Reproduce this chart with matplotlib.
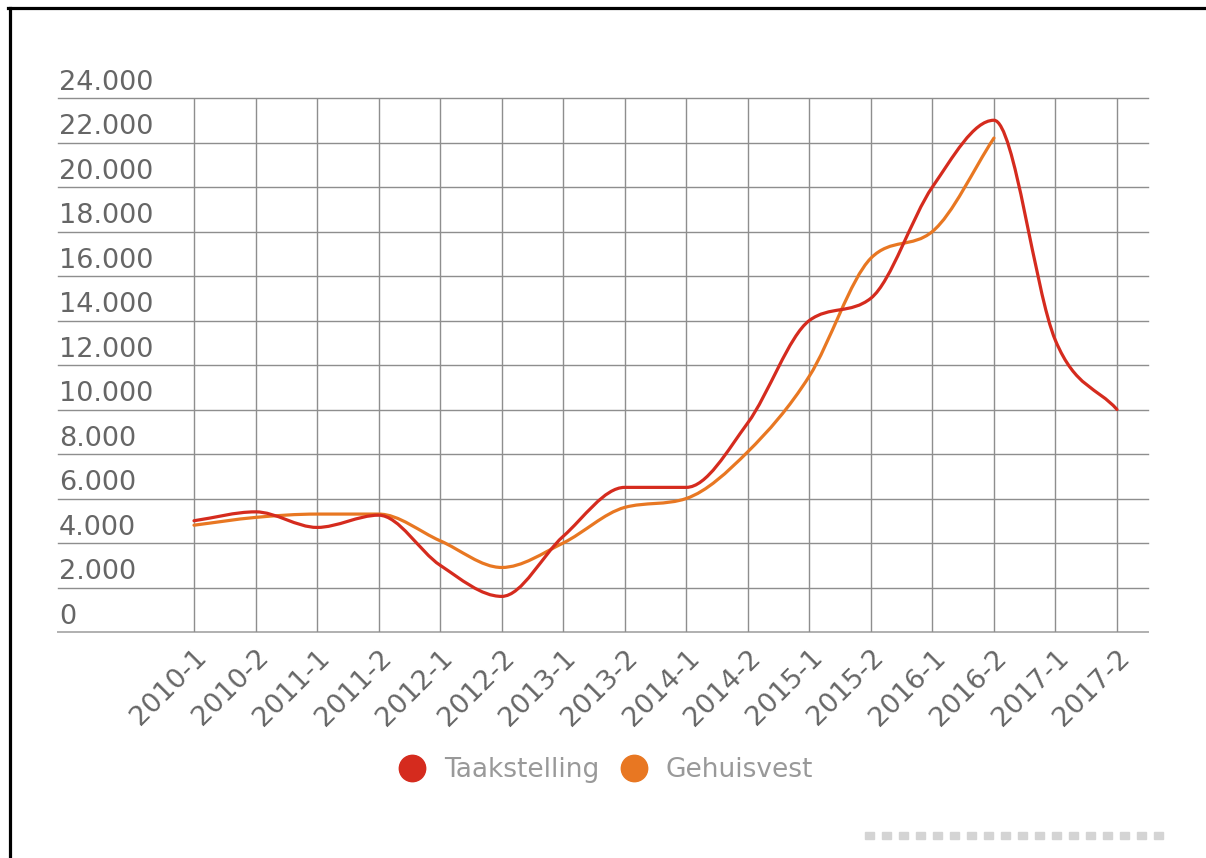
import numpy as np
import matplotlib
matplotlib.use("Agg")
import matplotlib.pyplot as plt
from matplotlib.path import Path
from matplotlib.patches import PathPatch, Rectangle
from matplotlib.lines import Line2D

periods = ["2010-1", "2010-2", "2011-1", "2011-2", "2012-1", "2012-2",
           "2013-1", "2013-2", "2014-1", "2014-2", "2015-1", "2015-2",
           "2016-1", "2016-2", "2017-1", "2017-2"]
taakstelling = [5000, 5400, 4700, 5250, 3000, 1600, 4300, 6500,
                6500, 9400, 14000, 15000, 20000, 23000, 13100, 10000]
gehuisvest = [4800, 5150, 5300, 5300, 4100, 2900, 4000, 5600,
              6000, 8100, 11500, 16800, 18000, 22200]
y_ticks = list(range(0, 24001, 2000))

RED = "#d52b1e"
ORANGE = "#e87722"
GRID = "#8e8e8e"
TICK_TXT = "#666666"
LEGEND_TXT = "#999999"

W, H = 1206, 858


def monotone_path(xs, ys):
    # Fritsch-Carlson tangents, drawn as cubic bezier segments
    xs = np.asarray(xs, float)
    ys = np.asarray(ys, float)
    n = len(xs)
    d = np.diff(ys) / np.diff(xs)
    m = np.zeros(n)
    m[0], m[-1] = d[0], d[-1]
    for i in range(1, n - 1):
        m[i] = 0 if d[i - 1] * d[i] <= 0 else (d[i - 1] + d[i]) / 2
    for i in range(n - 1):
        if d[i] == 0:
            m[i] = m[i + 1] = 0
            continue
        a, b = m[i] / d[i], m[i + 1] / d[i]
        s = a * a + b * b
        if s > 9:
            t = 3 / np.sqrt(s)
            m[i], m[i + 1] = t * a * d[i], t * b * d[i]
    verts = [(xs[0], ys[0])]
    codes = [Path.MOVETO]
    for i in range(n - 1):
        h = (xs[i + 1] - xs[i]) / 3
        verts += [(xs[i] + h, ys[i] + m[i] * h),
                  (xs[i + 1] - h, ys[i + 1] - m[i + 1] * h),
                  (xs[i + 1], ys[i + 1])]
        codes += [Path.CURVE4] * 3
    return Path(verts, codes)


plt.rcParams["font.family"] = ["DejaVu Sans"]
fig = plt.figure(figsize=(W / 100, H / 100), dpi=100)

step = (1117 - 194) / 15
x_left = (58 - 194) / step
x_right = (1148 - 194) / step
ax = fig.add_axes([58 / W, 1 - 632 / H, (1148 - 58) / W, (632 - 98) / H])
ax.set_xlim(x_left, x_right)
ax.set_ylim(0, 24000)
ax.axis("off")

idx = np.arange(len(periods))
for v in y_ticks:
    ax.axhline(v, color=GRID if v else "#b0b0b0", lw=1.0 if v else 1.4,
               zorder=1, clip_on=False)
    ax.annotate(f"{v:,}".replace(",", ".") if v else "0",
                xy=(0.001, v), xycoords=("axes fraction", "data"),
                xytext=(0, 5.8), textcoords="offset points",
                ha="left", va="baseline", fontsize=19.5, color=TICK_TXT)
ax.vlines(idx, 0, 24000, color=GRID, lw=1.0, zorder=1)

for i, lab in enumerate(periods):
    ax.annotate(lab, xy=(i, 0), xytext=(0, -9), textcoords="offset points",
                rotation=45, rotation_mode="anchor", ha="right", va="top",
                fontsize=19.5, color=TICK_TXT)

ax.add_patch(PathPatch(monotone_path(np.arange(len(gehuisvest)), gehuisvest),
                       fill=False, edgecolor=ORANGE, lw=2.3, zorder=3,
                       capstyle="round"))
ax.add_patch(PathPatch(monotone_path(idx, taakstelling),
                       fill=False, edgecolor=RED, lw=2.3, zorder=4,
                       capstyle="round"))

handles = [Line2D([], [], ls="none", marker="o", markersize=19,
                  markerfacecolor=c, markeredgecolor=c) for c in (RED, ORANGE)]
fig.legend(handles, ["Taakstelling", "Gehuisvest"], loc="center",
           bbox_to_anchor=(606 / W, 1 - 770 / H), ncol=2, frameon=False,
           fontsize=19, labelcolor=LEGEND_TXT, handlelength=1.0,
           handletextpad=0.7, columnspacing=0.8)

# frame of the page
fig.add_artist(Line2D([9.5 / W, 9.5 / W], [0, 1 - 8 / H], color="black",
                      lw=2.3, transform=fig.transFigure))
fig.add_artist(Line2D([8 / W, 1], [1 - 8 / H, 1 - 8 / H], color="black",
                      lw=2.3, transform=fig.transFigure))

# grey dotted strip bottom right
for k in range(18):
    x0 = 865 + k * 17
    fig.add_artist(Rectangle((x0 / W, 1 - 839 / H), 9 / W, 7 / H,
                             color="#d4d4d4", transform=fig.transFigure))

fig.savefig("out.png", dpi=100)
